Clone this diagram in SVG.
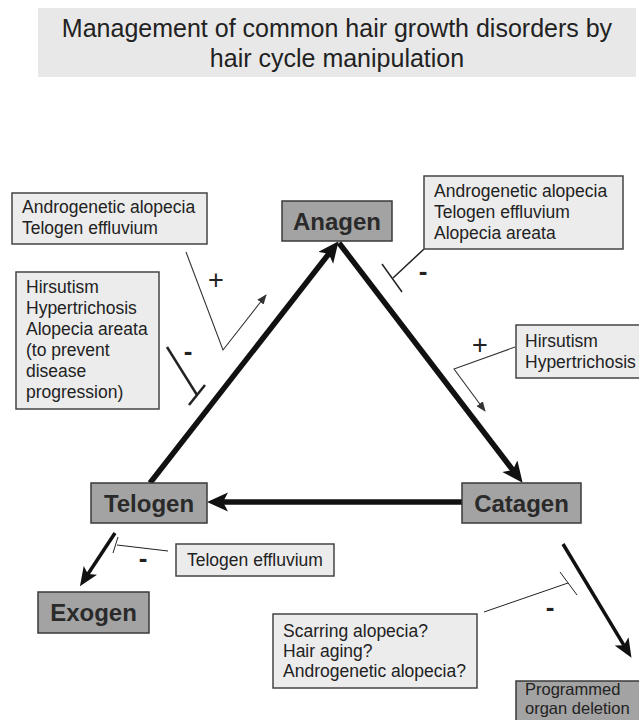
<svg xmlns="http://www.w3.org/2000/svg" width="639" height="720" viewBox="0 0 639 720">
<defs>
<style>
text{font-family:"Liberation Sans",Arial,sans-serif;fill:#222}
.title{font-size:25px;text-anchor:middle}
.node{fill:#a3a3a3;stroke:#3a3a3a;stroke-width:1.5}
.nlab{font-size:24px;font-weight:bold;text-anchor:middle;fill:#2a2a2a}
.box{fill:#ececec;stroke:#444;stroke-width:1.5}
.btxt{font-size:17.5px}
.ptxt{font-size:16.5px}
.thick{stroke:#111;stroke-width:5.5;fill:none}
.mid{stroke:#111;stroke-width:3.5;fill:none}
.thin{stroke:#333;stroke-width:1.1;fill:none}
.inh{stroke:#222;fill:none}
.plus{font-size:27px;text-anchor:middle}
.minus{font-size:26px;font-weight:bold;text-anchor:middle}
</style>
<marker id="big" markerUnits="userSpaceOnUse" markerWidth="22" markerHeight="20" refX="8" refY="9.5" orient="auto" viewBox="0 0 22 20">
<path d="M0,0 L21,9.5 L0,19 L5,9.5 z" fill="#111"/>
</marker>
<marker id="med" markerUnits="userSpaceOnUse" markerWidth="20" markerHeight="16" refX="8" refY="8" orient="auto" viewBox="0 0 20 16">
<path d="M0,0 L19,8 L0,16 L4.5,8 z" fill="#111"/>
</marker>
<marker id="small" markerUnits="userSpaceOnUse" markerWidth="10" markerHeight="8" refX="9" refY="4" orient="auto" viewBox="0 0 10 8">
<path d="M0,0 L10,4 L0,8 z" fill="#333"/>
</marker>
</defs>
<rect width="639" height="720" fill="#fff"/>
<g id="title">
<rect x="38" y="8" width="598" height="69" fill="#e8e8e8"/>
<text class="title" x="337" y="37">Management of common hair growth disorders by</text>
<text class="title" x="337" y="67">hair cycle manipulation</text>
</g>
<g id="connectors">
<line class="thick" x1="150" y1="483" x2="330.6" y2="251.5" marker-end="url(#big)"/>
<line class="thick" x1="339" y1="243" x2="514.7" y2="472.5" marker-end="url(#big)"/>
<line class="thick" x1="462" y1="502" x2="220" y2="502" marker-end="url(#big)"/>
<line class="mid" x1="115" y1="533" x2="86" y2="577" marker-end="url(#med)"/>
<line class="mid" x1="563" y1="544" x2="625.8" y2="648.3" marker-end="url(#med)"/>
<polyline class="thin" points="186,252 223,350 266,295" marker-end="url(#small)"/>
<polyline class="thin" points="515,347 454,369 485,411" marker-end="url(#small)"/>
<line class="inh" stroke-width="2.5" x1="167" y1="347" x2="197" y2="395"/>
<line class="inh" stroke-width="2.5" x1="189" y1="405" x2="205" y2="385"/>
<line class="inh" stroke-width="1.5" x1="424" y1="249" x2="393" y2="278"/>
<line class="inh" stroke-width="1.5" x1="382" y1="264" x2="402" y2="292"/>
<line class="inh" stroke-width="1" x1="168" y1="551" x2="117" y2="545"/>
<line class="inh" stroke-width="1" x1="113" y1="553" x2="118" y2="537"/>
<line class="inh" stroke-width="1" x1="484" y1="612" x2="568" y2="583"/>
<line class="inh" stroke-width="1" x1="560" y1="572" x2="577" y2="595"/>
<text class="plus" x="216" y="289">+</text>
<text class="plus" x="480" y="354">+</text>
<text class="minus" x="188" y="360">-</text>
<text class="minus" x="423" y="280">-</text>
<text class="minus" x="143" y="567">-</text>
<text class="minus" x="550" y="616">-</text>
</g>
<g id="anagen">
<rect class="node" x="282" y="201" width="110" height="40"/>
<text class="nlab" x="337" y="230">Anagen</text>
</g>
<g id="catagen">
<rect class="node" x="462" y="483" width="119" height="40"/>
<text class="nlab" x="521.5" y="512">Catagen</text>
</g>
<g id="telogen">
<rect class="node" x="91" y="483" width="116" height="40"/>
<text class="nlab" x="149" y="512">Telogen</text>
</g>
<g id="exogen">
<rect class="node" x="38" y="592" width="111" height="41"/>
<text class="nlab" x="93.5" y="621">Exogen</text>
</g>
<g id="programmed">
<rect class="node" x="516" y="681" width="130" height="50"/>
<text class="ptxt" x="525" y="695">Programmed</text>
<text class="ptxt" x="525" y="714">organ deletion</text>
</g>
<g id="box-anagen-plus">
<rect class="box" x="12" y="193" width="195" height="51"/>
<text class="btxt" x="22" y="213">Androgenetic alopecia</text>
<text class="btxt" x="22" y="234">Telogen effluvium</text>
</g>
<g id="box-anagen-minus">
<rect class="box" x="16" y="272" width="143" height="137"/>
<text class="btxt" x="26" y="293">Hirsutism</text>
<text class="btxt" x="26" y="314">Hypertrichosis</text>
<text class="btxt" x="26" y="335">Alopecia areata</text>
<text class="btxt" x="26" y="356">(to prevent</text>
<text class="btxt" x="26" y="377">disease</text>
<text class="btxt" x="26" y="398">progression)</text>
</g>
<g id="box-catagen-minus">
<rect class="box" x="424" y="176" width="199" height="73"/>
<text class="btxt" x="434" y="197">Androgenetic alopecia</text>
<text class="btxt" x="434" y="218">Telogen effluvium</text>
<text class="btxt" x="434" y="239">Alopecia areata</text>
</g>
<g id="box-catagen-plus">
<rect class="box" x="516" y="325" width="130" height="53"/>
<text class="btxt" x="525" y="347">Hirsutism</text>
<text class="btxt" x="525" y="368">Hypertrichosis</text>
</g>
<g id="box-exogen-minus">
<rect class="box" x="176" y="544" width="158" height="32"/>
<text class="btxt" x="187" y="566">Telogen effluvium</text>
</g>
<g id="box-deletion-minus">
<rect class="box" x="273" y="614" width="204" height="74"/>
<text class="btxt" x="283" y="637">Scarring alopecia?</text>
<text class="btxt" x="283" y="657">Hair aging?</text>
<text class="btxt" x="283" y="677">Androgenetic alopecia?</text>
</g>
</svg>
